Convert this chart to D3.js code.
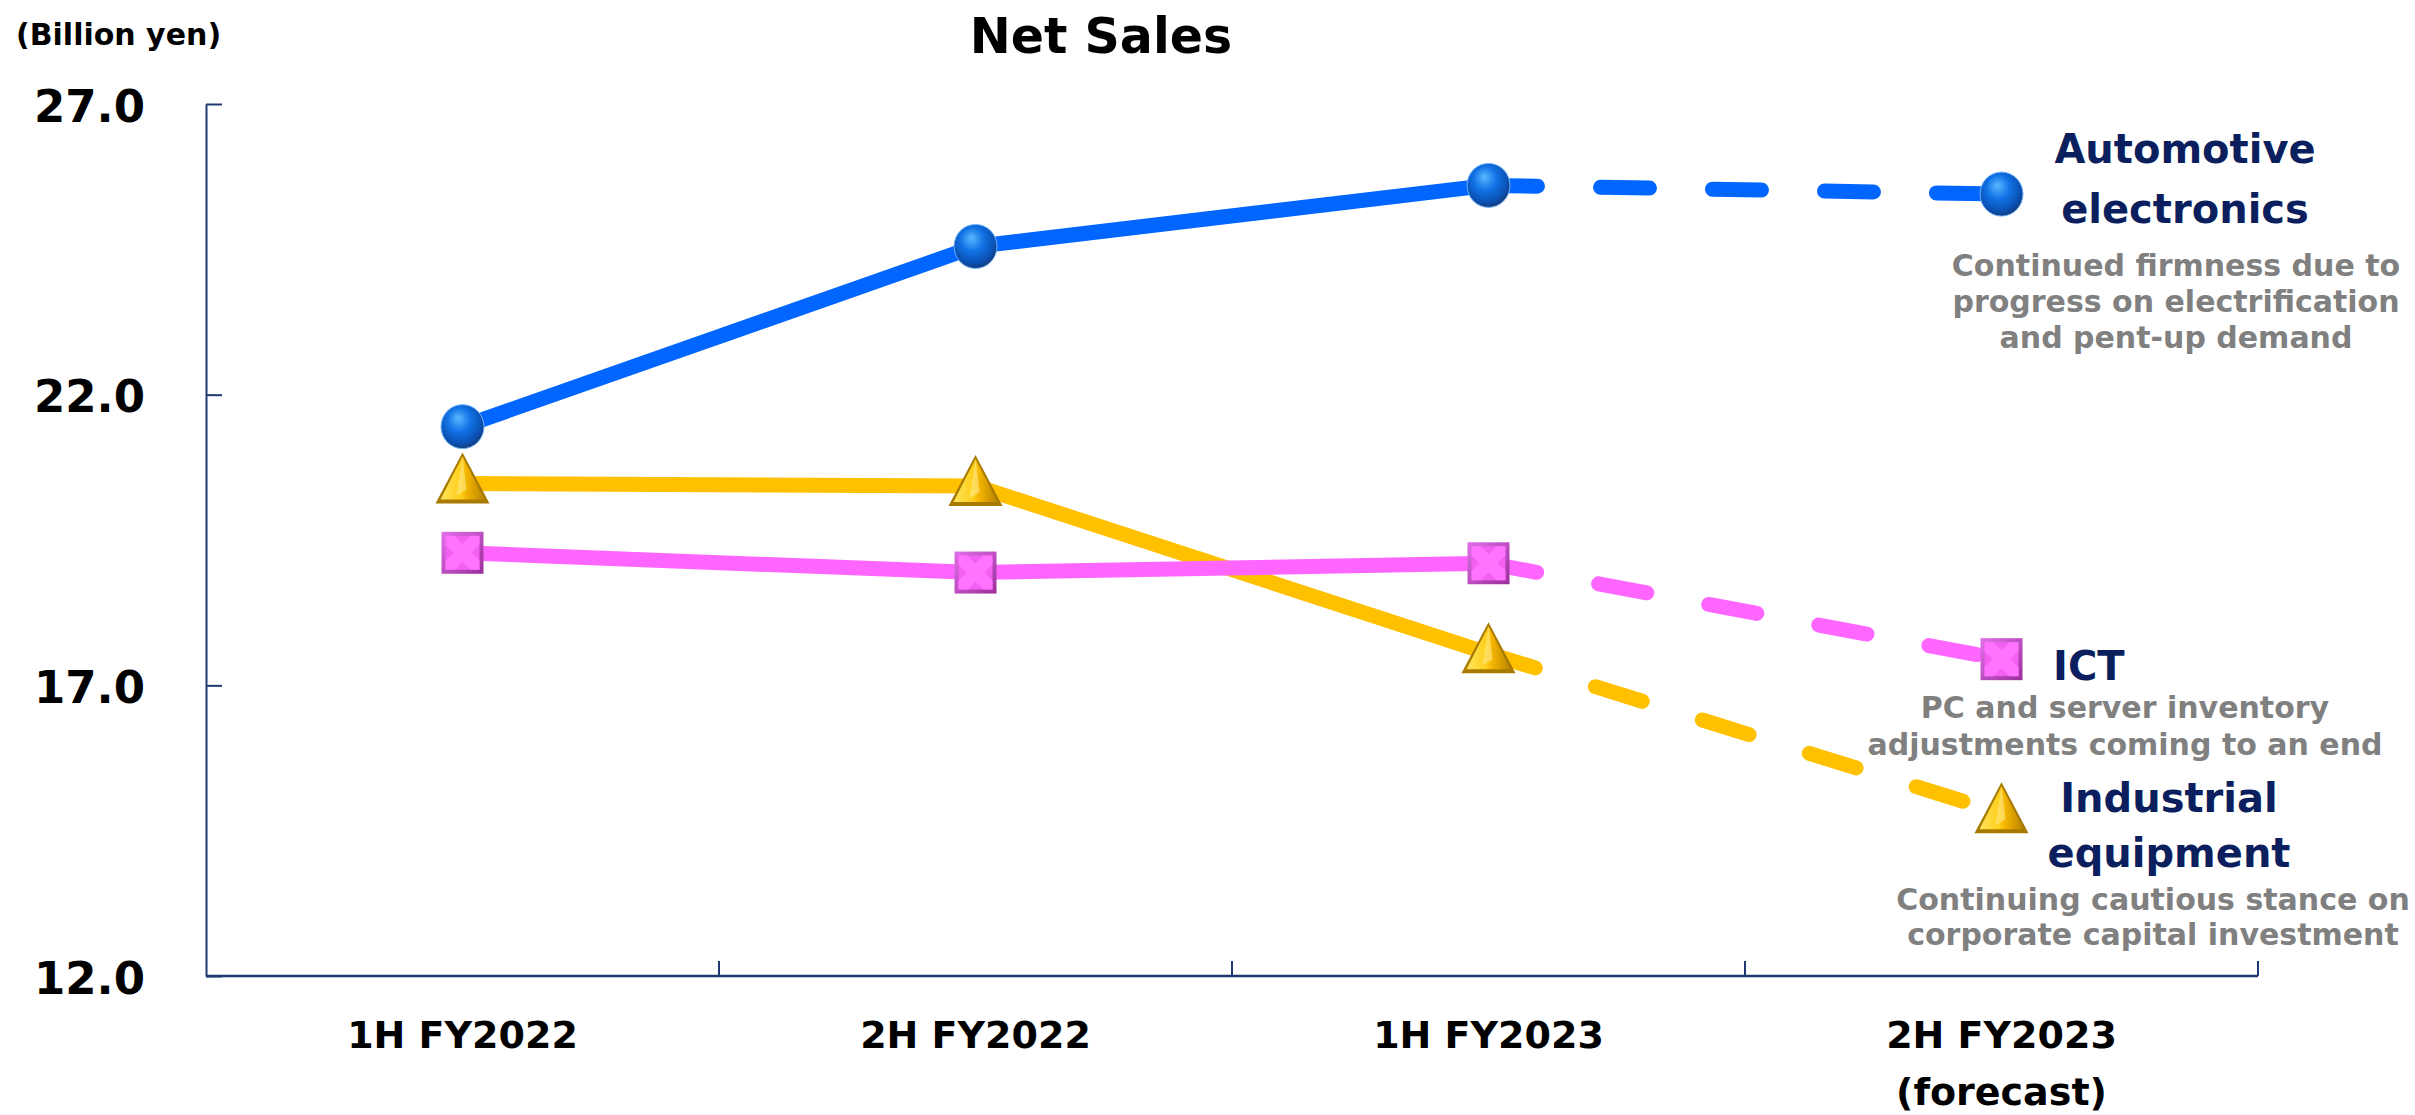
<!DOCTYPE html>
<html>
<head>
<meta charset="utf-8">
<script src="https://cdn.jsdelivr.net/npm/d3@7"></script>
<style>
  html, body { margin: 0; padding: 0; background: #fff; }
  svg { display: block; }
  text { font-family: "DejaVu Sans", Verdana, sans-serif; font-weight: bold; }
</style>
</head>
<body>
<svg id="chart" width="2415" height="1115"></svg>
<script>
// ---------- data ----------
const categories = ["1H FY2022", "2H FY2022", "1H FY2023", "2H FY2023"];
const categoryLines = [["1H FY2022"], ["2H FY2022"], ["1H FY2023"], ["2H FY2023", "(forecast)"]];
const automotive = [21.45, 24.55, 25.6, 25.45];
const ict = [19.28, 18.94, 19.1, 17.45];
const industrial = [20.47, 20.43, 17.55, 14.8];
const yTicks = [12, 17, 22, 27];
const automotiveLabel = ["Automotive", "electronics"];
const automotiveNote = ["Continued firmness due to", "progress on electrification", "and pent-up demand"];
const ictLabel = ["ICT"];
const ictNote = ["PC and server inventory", "adjustments coming to an end"];
const industrialLabel = ["Industrial", "equipment"];
const industrialNote = ["Continuing cautious stance on", "corporate capital investment"];

// ---------- layout ----------
const svg = d3.select("#chart");
const x = d3.scaleBand().domain(categories).range([206, 2258]).padding(0);
const y = d3.scaleLinear().domain([12, 27]).range([976, 104]);
const cx = c => x(c) + x.bandwidth() / 2;

const navy = "#1f3a70";
const labelNavy = "#0b1f5e";
const gray = "#808080";

// ---------- defs (glossy markers) ----------
const defs = svg.append("defs");
const gb = defs.append("radialGradient").attr("id", "gBlue")
  .attr("cx", "45%").attr("cy", "40%").attr("r", "60%").attr("fx", "40%").attr("fy", "30%");
gb.append("stop").attr("offset", "0%").attr("stop-color", "#5ab8ff");
gb.append("stop").attr("offset", "45%").attr("stop-color", "#1173e6");
gb.append("stop").attr("offset", "85%").attr("stop-color", "#0a4fb0");
gb.append("stop").attr("offset", "100%").attr("stop-color", "#173b78");

const gt = defs.append("linearGradient").attr("id", "gGold")
  .attr("x1", "0%").attr("y1", "0%").attr("x2", "100%").attr("y2", "0%");
gt.append("stop").attr("offset", "0%").attr("stop-color", "#ffe45c");
gt.append("stop").attr("offset", "45%").attr("stop-color", "#ffcf1a");
gt.append("stop").attr("offset", "60%").attr("stop-color", "#f2b300");
gt.append("stop").attr("offset", "100%").attr("stop-color", "#b88400");

const gp = defs.append("linearGradient").attr("id", "gPink")
  .attr("x1", "0%").attr("y1", "0%").attr("x2", "100%").attr("y2", "100%");
gp.append("stop").attr("offset", "0%").attr("stop-color", "#e070e8");
gp.append("stop").attr("offset", "100%").attr("stop-color", "#9a2f9a");

// ---------- axes ----------
const yAxis = d3.axisLeft(y).tickValues(yTicks).tickFormat(d3.format(".1f"))
  .tickSizeInner(-16).tickSizeOuter(0).tickPadding(61);
const gy = svg.append("g").attr("transform", "translate(206,0)").call(yAxis);
gy.select(".domain").attr("stroke", navy).attr("stroke-width", 2);
gy.selectAll(".tick line").attr("stroke", navy).attr("stroke-width", 2);
gy.selectAll(".tick text").attr("fill", "#000").style("font-size", "45px")
  .style("font-family", "'DejaVu Sans', sans-serif").style("font-weight", "bold")
  .attr("dy", null).attr("y", 17);

// x axis line and boundary ticks
const gx = svg.append("g");
gx.append("line").attr("x1", x.range()[0]).attr("x2", x.range()[1])
  .attr("y1", y(12)).attr("y2", y(12)).attr("stroke", navy).attr("stroke-width", 2.5);
gx.selectAll("line.bt").data(categories).enter().append("line").attr("class", "bt")
  .attr("x1", d => x(d) + x.bandwidth()).attr("x2", d => x(d) + x.bandwidth())
  .attr("y1", y(12)).attr("y2", y(12) - 15).attr("stroke", navy).attr("stroke-width", 2);
// x labels
categories.forEach((c, i) => {
  const t = gx.append("text").attr("x", cx(c)).attr("y", 1048)
    .attr("text-anchor", "middle").attr("fill", "#000").style("font-size", "38px");
  categoryLines[i].forEach((ln, j) => {
    t.append("tspan").attr("x", cx(c)).attr("dy", j === 0 ? 0 : 57).text(ln);
  });
});

// ---------- title & unit ----------
svg.append("text").attr("x", 1101).attr("y", 53).attr("text-anchor", "middle")
  .style("font-size", "49px").attr("fill", "#000").text("Net Sales");
svg.append("text").attr("x", 16).attr("y", 45).attr("text-anchor", "start")
  .style("font-size", "30px").attr("fill", "#000").text("(Billion yen)");

// ---------- lines ----------
const series = [
  { name: "industrial", values: industrial, color: "#ffc000", marker: "triangle" },
  { name: "ict", values: ict, color: "#ff66ff", marker: "square" },
  { name: "automotive", values: automotive, color: "#0066ff", marker: "circle" }
];
const line = d3.line().x(d => cx(d.c)).y(d => y(d.v));
const gl = svg.append("g");
series.forEach(s => {
  const pts = s.values.map((v, i) => ({ c: categories[i], v }));
  gl.append("path").attr("d", line(pts.slice(0, 3))).attr("fill", "none")
    .attr("stroke", s.color).attr("stroke-width", 15).attr("stroke-linejoin", "round");
  gl.append("path").attr("d", line(pts.slice(2, 4))).attr("fill", "none")
    .attr("stroke", s.color).attr("stroke-width", 15).attr("stroke-linecap", "round")
    .attr("stroke-dasharray", "49,63");
});

// ---------- markers ----------
const gm = svg.append("g");
series.forEach(s => {
  s.values.forEach((v, i) => {
    const px = cx(categories[i]), py = y(v);
    const g = gm.append("g").attr("transform", `translate(${px},${py})`);
    if (s.marker === "circle") {
      g.append("ellipse").attr("rx", 21.5).attr("ry", 22).attr("fill", "url(#gBlue)")
        .attr("stroke", "#6fb4ff").attr("stroke-width", 1);
    } else if (s.marker === "triangle") {
      g.append("path").attr("d", "M0,-31 L27,20 L-27,20 Z").attr("fill", "#a87a00");
      g.append("path").attr("d", "M0,-27 L22,16 L-22,16 Z").attr("fill", "url(#gGold)");
      g.append("path").attr("d", "M0,-27 L4,6 L-6,12 Z").attr("fill", "#ffe98a").attr("opacity", 0.6);
    } else {
      g.append("rect").attr("x", -21).attr("y", -21).attr("width", 42).attr("height", 42)
        .attr("fill", "url(#gPink)");
      g.append("rect").attr("x", -17).attr("y", -17).attr("width", 34).attr("height", 34)
        .attr("fill", "#f25ff2");
      g.append("path")
        .attr("d", "M-17,-17 L-8,-17 L0,-9 L8,-17 L17,-17 L17,-8 L9,0 L17,8 L17,17 L8,17 L0,9 L-8,17 L-17,17 L-17,8 L-9,0 L-17,-8 Z")
        .attr("fill", "#ff73ff");
    }
  });
});

// ---------- annotations ----------
function block(lines, xPos, yStart, dy, size, color, anchor) {
  const t = svg.append("text").attr("x", xPos).attr("y", yStart)
    .attr("text-anchor", anchor).attr("fill", color).style("font-size", size + "px");
  lines.forEach((ln, j) => t.append("tspan").attr("x", xPos).attr("dy", j === 0 ? 0 : dy).text(ln));
}
block(automotiveLabel, 2185, 163, 60, 40, labelNavy, "middle");
block(automotiveNote, 2176, 276, 36, 30, gray, "middle");
block(ictLabel, 2053, 680, 0, 40, labelNavy, "start");
block(ictNote, 2125, 718, 37, 30, gray, "middle");
block(industrialLabel, 2169, 812, 55, 40, labelNavy, "middle");
block(industrialNote, 2153, 910, 35, 30, gray, "middle");
</script>
</body>
</html>
